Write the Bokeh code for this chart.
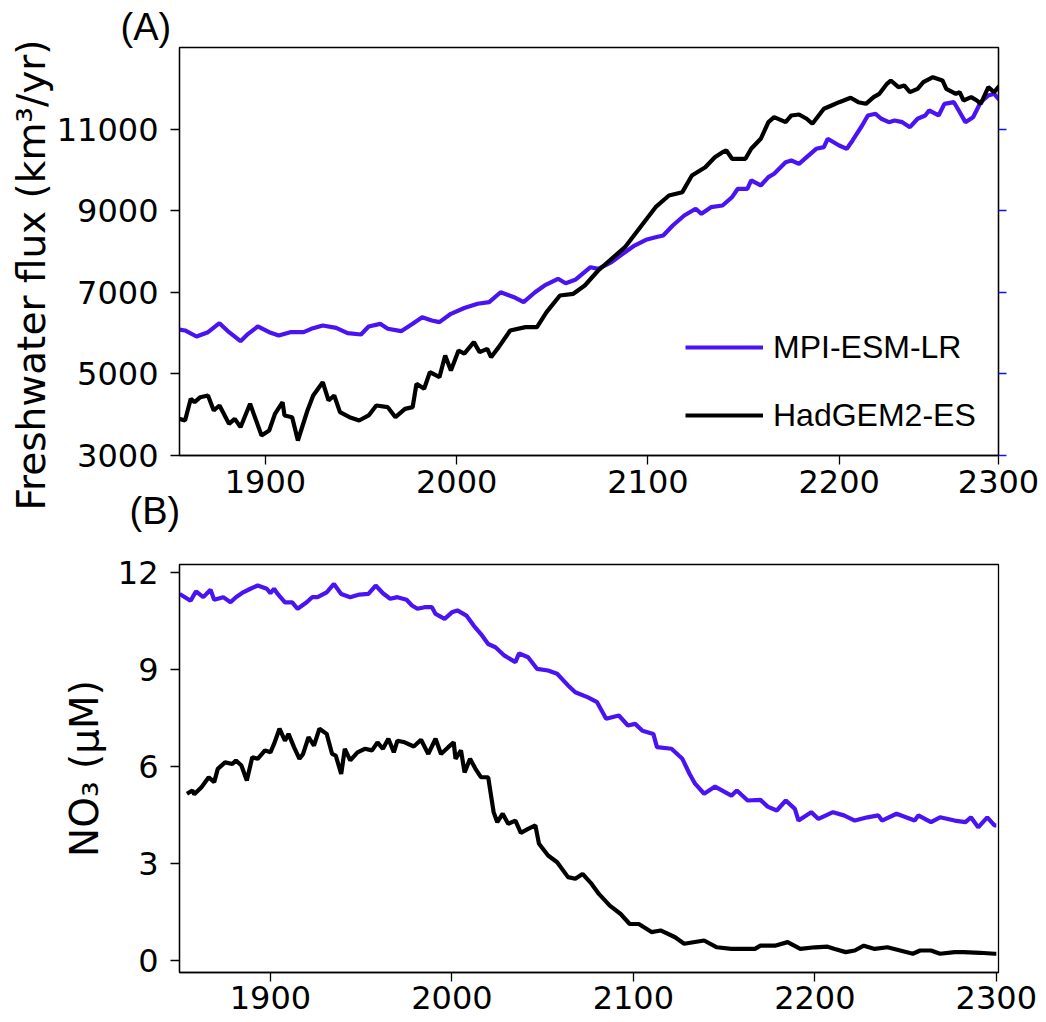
from bokeh.plotting import figure
from bokeh.models import LinearAxis, FixedTicker, Legend, LegendItem, Range1d, Title
from bokeh.layouts import column
from bokeh.embed import file_html
from bokeh.resources import INLINE

# ---------------- data (panel A: freshwater flux, km3/yr) ----------------
fw_mpi_year = [1855, 1858, 1864, 1870, 1876, 1881, 1887, 1891, 1896, 1902, 1907, 1913, 1920, 1924,
               1930, 1937, 1943, 1950, 1954, 1960, 1964, 1971, 1977, 1982, 1987, 1991, 1997, 2004,
               2011, 2017, 2023, 2030, 2035, 2041, 2046, 2053, 2057, 2062, 2070, 2074, 2081, 2088,
               2093, 2099, 2104, 2108, 2113, 2119, 2125, 2128, 2133, 2139, 2142, 2144, 2147, 2152,
               2154, 2159, 2163, 2166, 2172, 2175, 2179, 2183, 2188, 2192, 2194, 2200, 2204, 2207,
               2212, 2215, 2219, 2222, 2226, 2229, 2233, 2237, 2241, 2245, 2247, 2252, 2255, 2260,
               2262, 2266, 2270, 2274, 2278, 2281, 2284]
fw_mpi = [6090, 6068, 5920, 6026, 6247, 6026, 5806, 5986, 6166, 6026, 5945, 6026, 6026, 6109,
          6190, 6133, 6002, 5969, 6166, 6231, 6109, 6051, 6231, 6394, 6313, 6272, 6477, 6620,
          6723, 6762, 7007, 6885, 6762, 7007, 7172, 7336, 7228, 7312, 7621, 7580, 7744, 7989,
          8153, 8293, 8357, 8399, 8644, 8890, 9054, 8931, 9094, 9135, 9258, 9340, 9545, 9545,
          9749, 9626, 9831, 9913, 10198, 10239, 10158, 10320, 10526, 10566, 10772, 10607, 10526, 10730,
          11098, 11344, 11385, 11263, 11180, 11221, 11180, 11057, 11263, 11344, 11467, 11344, 11630, 11670,
          11508, 11180, 11302, 11670, 11834, 11875, 11712]

fw_had_year = [1855, 1858, 1861, 1863, 1866, 1870, 1873, 1876, 1881, 1884, 1887, 1892, 1898, 1902,
               1905, 1909, 1910, 1914, 1917, 1922, 1925, 1930, 1933, 1936, 1939, 1944, 1949, 1954,
               1958, 1964, 1968, 1973, 1977, 1979, 1983, 1986, 1991, 1994, 1997, 2001, 2004, 2009,
               2012, 2016, 2018, 2022, 2028, 2036, 2042, 2047, 2054, 2061, 2067, 2074, 2081, 2088,
               2096, 2104, 2111, 2118, 2123, 2130, 2135, 2139, 2141, 2144, 2151, 2154, 2159, 2163,
               2166, 2172, 2175, 2179, 2183, 2186, 2192, 2196, 2200, 2206, 2210, 2214, 2218, 2221,
               2225, 2227, 2231, 2234, 2237, 2241, 2244, 2249, 2254, 2256, 2261, 2263, 2265, 2269,
               2272, 2274, 2278, 2281, 2284]
fw_had = [3900, 3859, 4391, 4308, 4431, 4472, 4104, 4227, 3777, 3900, 3695, 4268, 3491, 3614,
          4023, 4308, 3982, 3940, 3368, 4104, 4472, 4799, 4350, 4472, 4063, 3940, 3859, 3982,
          4227, 4186, 3940, 4145, 4186, 4759, 4637, 5044, 4922, 5454, 5086, 5577, 5500, 5781,
          5536, 5618, 5412, 5659, 6068, 6149, 6149, 6517, 6927, 6968, 7172, 7540, 7826, 8112,
          8603, 9094, 9380, 9462, 9871, 10075, 10320, 10443, 10485, 10281, 10281, 10526, 10772, 11180,
          11302, 11180, 11344, 11368, 11263, 11140, 11508, 11589, 11670, 11778, 11670, 11630, 11793, 11875,
          12121, 12203, 12039, 12080, 11915, 11998, 12161, 12284, 12203, 11998, 11875, 11915, 11712, 11793,
          11712, 11630, 12039, 11915, 12080]

# ---------------- data (panel B: NO3, uM) ----------------
no3_mpi_year = [1850, 1856, 1859, 1863, 1867, 1869, 1874, 1878, 1881, 1885, 1889, 1893, 1898, 1900,
                1902, 1904, 1908, 1912, 1915, 1920, 1923, 1926, 1931, 1935, 1939, 1944, 1949, 1954,
                1958, 1962, 1966, 1970, 1975, 1978, 1981, 1985, 1989, 1991, 1996, 2000, 2003, 2008,
                2012, 2016, 2020, 2024, 2029, 2035, 2037, 2042, 2047, 2053, 2058, 2064, 2068, 2075,
                2080, 2085, 2092, 2097, 2101, 2105, 2111, 2113, 2121, 2127, 2131, 2134, 2139, 2145,
                2154, 2157, 2163, 2170, 2174, 2179, 2184, 2189, 2191, 2198, 2202, 2210, 2216, 2222,
                2229, 2235, 2237, 2245, 2255, 2257, 2264, 2269, 2277, 2283, 2286, 2290, 2295, 2299, 2300]
no3_mpi = [11.34, 11.13, 11.42, 11.24, 11.47, 11.16, 11.24, 11.08, 11.24, 11.39, 11.50, 11.60, 11.50, 11.36,
           11.50, 11.34, 11.08, 11.08, 10.88, 11.08, 11.24, 11.24, 11.39, 11.65, 11.34, 11.24, 11.32, 11.34,
           11.60, 11.36, 11.19, 11.24, 11.16, 10.98, 10.88, 10.93, 10.93, 10.72, 10.57, 10.77, 10.83, 10.67,
           10.36, 10.10, 9.79, 9.69, 9.43, 9.23, 9.50, 9.38, 9.02, 8.97, 8.87, 8.51, 8.30, 8.14,
           7.99, 7.48, 7.58, 7.27, 7.32, 7.11, 7.01, 6.60, 6.55, 6.24, 5.77, 5.47, 5.16, 5.38,
           5.10, 5.26, 4.95, 4.97, 4.76, 4.64, 4.95, 4.69, 4.33, 4.59, 4.38, 4.59, 4.49, 4.33,
           4.43, 4.49, 4.33, 4.54, 4.33, 4.49, 4.28, 4.43, 4.33, 4.28, 4.43, 4.12, 4.43, 4.18, 4.18]

no3_had_year = [1854, 1857, 1858, 1862, 1866, 1869, 1871, 1875, 1879, 1881, 1884, 1887, 1890, 1893,
                1897, 1900, 1902, 1905, 1908, 1910, 1913, 1916, 1918, 1921, 1924, 1927, 1931, 1934,
                1936, 1939, 1941, 1944, 1948, 1952, 1956, 1959, 1962, 1965, 1968, 1970, 1974, 1979,
                1983, 1987, 1991, 1994, 1998, 2001, 2002, 2005, 2007, 2010, 2013, 2016, 2020, 2023,
                2025, 2028, 2031, 2035, 2038, 2042, 2046, 2048, 2053, 2058, 2064, 2068, 2072, 2077,
                2081, 2087, 2093, 2098, 2103, 2110, 2115, 2123, 2128, 2139, 2146, 2154, 2167, 2170,
                2178, 2185, 2192, 2200, 2207, 2211, 2217, 2222, 2227, 2233, 2240, 2247, 2254, 2258,
                2264, 2269, 2277, 2282, 2291, 2299, 2300]
no3_had = [5.16, 5.26, 5.14, 5.36, 5.67, 5.52, 5.93, 6.13, 6.08, 6.19, 6.03, 5.57, 6.29, 6.24,
           6.50, 6.44, 6.70, 7.17, 6.80, 7.01, 6.60, 6.24, 6.39, 6.91, 6.65, 7.17, 7.01, 6.39,
           6.34, 5.77, 6.55, 6.19, 6.44, 6.55, 6.50, 6.75, 6.55, 6.86, 6.44, 6.80, 6.75, 6.62,
           6.83, 6.39, 6.86, 6.39, 6.60, 6.75, 6.24, 6.50, 5.82, 6.24, 5.93, 5.67, 5.67, 4.59,
           4.28, 4.54, 4.23, 4.33, 3.95, 4.07, 4.18, 3.61, 3.25, 3.04, 2.58, 2.53, 2.68, 2.37,
           2.06, 1.70, 1.44, 1.13, 1.13, 0.88, 0.93, 0.72, 0.52, 0.62, 0.41, 0.36, 0.36, 0.46,
           0.46, 0.57, 0.36, 0.41, 0.43, 0.36, 0.26, 0.31, 0.46, 0.36, 0.41, 0.31, 0.21, 0.31,
           0.31, 0.21, 0.26, 0.26, 0.24, 0.21, 0.21]

top_xticks = [1900, 2000, 2100, 2200, 2283.3]
top_xtick_labels = {2283.3: "2300"}
top_yticks = [3000, 5000, 7000, 9000, 11000]
bot_xticks = [1900, 2000, 2100, 2200, 2300]
bot_yticks = [0, 3, 6, 9, 12]

MPI_COLOR = "#4a14f2"
HAD_COLOR = "black"
TICK_FONT = "32px"
FONT = "DejaVu Sans"
PANEL_FONT = "Liberation Sans"
LW = 4.2


def style(p):
    p.grid.visible = False
    p.outline_line_color = "black"
    p.outline_line_width = 1.3
    p.outline_line_alpha = 1.0
    p.background_fill_color = "white"
    p.border_fill_color = "white"
    for ax in p.axis:
        ax.major_tick_out = 9
        ax.major_tick_in = 0
        ax.minor_tick_out = 0
        ax.minor_tick_in = 0
        ax.major_tick_line_width = 1.3
        ax.major_tick_line_color = "black"
        ax.axis_line_width = 1.3
        ax.axis_line_color = "black"
        ax.major_label_text_font = FONT
        ax.major_label_text_font_size = TICK_FONT
        ax.major_label_text_color = "black"
        ax.axis_label_text_font = FONT
        ax.axis_label_text_font_style = "normal"
        ax.axis_label_text_color = "black"
    p.xaxis.major_label_standoff = 5
    p.yaxis.major_label_standoff = 12


# ---------------- panel A ----------------
top = figure(width=1046, height=537, x_range=Range1d(1855.1, 2283.3), y_range=Range1d(3000, 13012),
             output_backend="svg", toolbar_location=None, title="(A)",
             min_border_left=179, min_border_right=47, min_border_top=47, min_border_bottom=82)
style(top)
top.title.text_font = PANEL_FONT
top.title.text_font_size = "38px"
top.title.text_font_style = "normal"
top.title.text_color = "black"
top.title.align = "left"
top.title.offset = -59
top.title.standoff = 0
top.xaxis.ticker = FixedTicker(ticks=top_xticks)
top.xaxis.major_label_overrides = top_xtick_labels
top.yaxis.ticker = FixedTicker(ticks=top_yticks)

rb = top.line(fw_mpi_year, fw_mpi, line_color=MPI_COLOR, line_width=LW)
rk = top.line(fw_had_year, fw_had, line_color=HAD_COLOR, line_width=LW)

right_ax = LinearAxis(ticker=FixedTicker(ticks=top_yticks), major_label_text_font_size="1px",
                      major_label_text_color=None,
                      major_tick_line_color="#1010ff", major_tick_out=8, major_tick_in=0,
                      major_tick_line_width=1.5, minor_tick_out=0, minor_tick_in=0,
                      axis_line_color="black", axis_line_width=1.3, major_label_standoff=0)
top.add_layout(right_ax, "right")

legend = Legend(items=[LegendItem(label="MPI-ESM-LR", renderers=[rb]),
                       LegendItem(label="HadGEM2-ES", renderers=[rk])],
                location=(506, 20), padding=0, margin=0, spacing=28,
                glyph_width=78, glyph_height=40, label_height=40, label_standoff=10,
                label_text_font="Liberation Sans", label_text_font_size="32px",
                label_text_color="black",
                background_fill_alpha=0, border_line_alpha=0)
top.add_layout(legend)

ylab = Title(text="Freshwater flux (km³/yr)", align="left", offset=-55, standoff=0,
             text_font=FONT, text_font_size="39px", text_font_style="normal", text_color="black")
top.add_layout(ylab, "left")

# panel (B) tag sits in the space just under panel A's x axis
tag_b = Title(text="(B)", align="left", offset=-50, standoff=-15, vertical_align="bottom",
              text_font=PANEL_FONT, text_font_size="38px", text_font_style="normal", text_color="black")
top.add_layout(tag_b, "below")

# ---------------- panel B ----------------
bot = figure(width=1046, height=485, x_range=Range1d(1849.9, 2301.2), y_range=Range1d(-0.37, 12.25),
             output_backend="svg", toolbar_location=None,
             min_border_left=178, min_border_right=48, min_border_top=27, min_border_bottom=50)
style(bot)
bot.xaxis.ticker = FixedTicker(ticks=bot_xticks)
bot.yaxis.ticker = FixedTicker(ticks=bot_yticks)
bot.yaxis.axis_label = "NO₃ (μM)"
bot.yaxis.axis_label_text_font_size = "39px"
bot.yaxis.axis_label_standoff = 8
bot.xaxis.major_label_standoff = 4

bot.line(no3_mpi_year, no3_mpi, line_color=MPI_COLOR, line_width=LW)
bot.line(no3_had_year, no3_had, line_color=HAD_COLOR, line_width=LW)

layout = column(top, bot, spacing=0)
open("out.html", "w").write(file_html(layout, INLINE))
